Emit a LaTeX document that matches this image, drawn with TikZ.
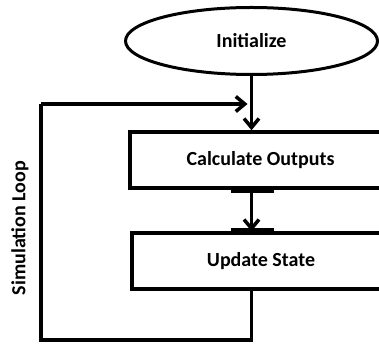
\documentclass[tikz,border=0pt]{standalone}
\usepackage{fontspec}
\setmainfont{Carlito}
\usetikzlibrary{shapes.geometric,arrows.meta,calc}

\begin{document}
\begin{tikzpicture}[x=1pt,y=-1pt,
    font=\fontsize{20}{23}\selectfont\bfseries,
    startstop/.style={ellipse, draw, line width=3pt, inner sep=0pt, minimum width=252pt, minimum height=67pt},
    process/.style={rectangle, draw, line width=3.5pt, inner sep=0pt, minimum height=56pt},
    flow/.style={line width=3.5pt, -{Straight Barb[length=9pt,width=15pt]}},
    loopline/.style={line width=3.5pt},
    joint/.style={line width=6pt}]
    \useasboundingbox (0,0) rectangle (379,344);
    % blocks
    \node[startstop] (init) at (251.5,41) {Initialize};
    \node[process, minimum width=261pt] (calc) at (260.5,160) {Calculate Outputs};
    \node[process, minimum width=258pt] (update) at (261,261) {Update State};
    \node[rotate=90] (looplabel) at (20,228) {Simulation Loop};
    % loop corners
    \coordinate (looptop) at (41,104);
    \coordinate (loopbot) at (41,340);
    % connectors
    \draw[flow] (init.south) -- (init.south |- calc.north);
    \draw[flow] (calc.south -| init.south) -- (update.north -| init.south);
    \draw[loopline] (update.south -| init.south) |- (loopbot) -- (looptop);
    \draw[flow] (looptop) -- ($(looptop -| init.south)+(-4,0)$);
    % thick joints
    \draw[joint] ($(calc.south -| init.south)+(-21,0)$) -- ++(43,0);
    \draw[joint] ($(update.north -| init.south)+(-21,0)$) -- ++(43,0);
\end{tikzpicture}
\end{document}
